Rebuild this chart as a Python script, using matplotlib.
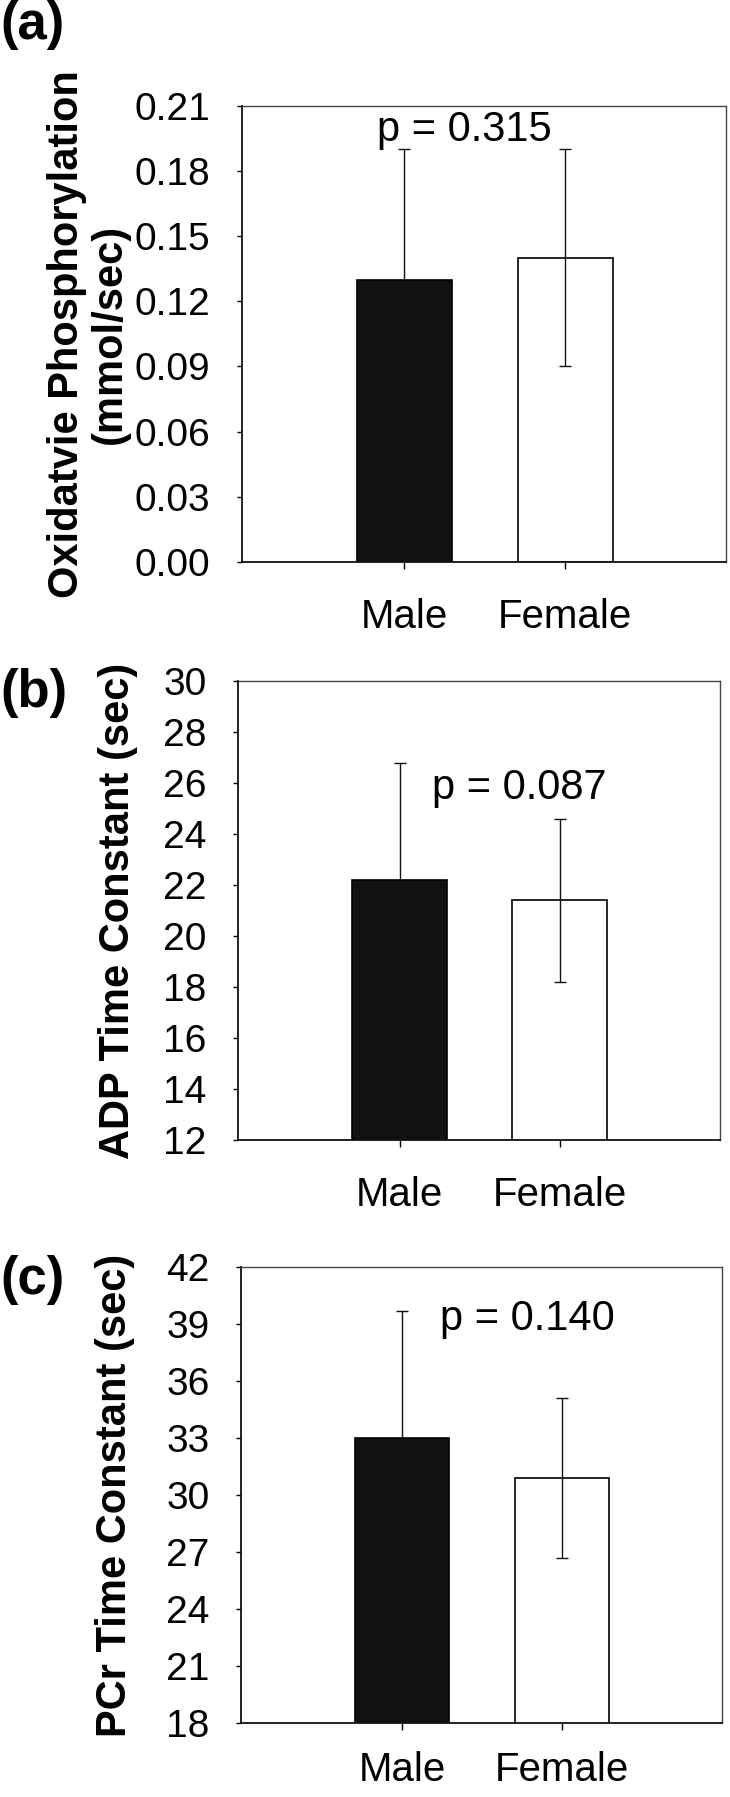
import numpy as np
import matplotlib.pyplot as plt

plt.rcParams['font.family'] = ['Liberation Sans', 'DejaVu Sans']

groups = ['Male', 'Female']

# (a) oxidative phosphorylation
oxphos_mean = [0.13, 0.14]
oxphos_err = [0.06, 0.05]
oxphos_ticks = [0.00, 0.03, 0.06, 0.09, 0.12, 0.15, 0.18, 0.21]
oxphos_p = 'p = 0.315'

# (b) ADP time constant
adp_mean = [22.2, 21.4]
adp_err = [4.6, 3.2]
adp_ticks = [12, 14, 16, 18, 20, 22, 24, 26, 28, 30]
adp_p = 'p = 0.087'

# (c) PCr time constant
pcr_mean = [33.0, 30.9]
pcr_err = [6.7, 4.2]
pcr_ticks = [18, 21, 24, 27, 30, 33, 36, 39, 42]
pcr_p = 'p = 0.140'


def drawPanel(fig, rect, means, errs, yticks, fmt, ylabel, labelx, ptext, ppos, letter, lettery, xpad=20):
	ax = fig.add_axes(rect)
	x = np.arange(len(groups))
	ax.bar(x, means, width=0.59, color=['#111111', 'white'], edgecolor='black', linewidth=1.2, zorder=2)
	# whisker inside the black bar blends into the fill, as in the original
	ax.errorbar(x, means, yerr=errs, fmt='none', ecolor='#111111', elinewidth=1.0,
				capsize=4, capthick=1.0, zorder=3)
	ax.set_xlim(-1.01, 2.0)
	ax.set_ylim(yticks[0], yticks[-1])
	ax.set_yticks(yticks)
	ax.set_yticklabels([fmt % v for v in yticks])
	ax.set_xticks(x)
	ax.set_xticklabels(groups)
	ax.tick_params(axis='y', direction='out', length=3.6, width=1.0, pad=19, labelsize=28)
	ax.tick_params(axis='x', direction='out', length=5, width=1.0, pad=xpad, labelsize=29)
	for side in ['left', 'bottom']:
		ax.spines[side].set_linewidth(1.3)
		ax.spines[side].set_color('#111111')
	for side in ['top', 'right']:
		ax.spines[side].set_linewidth(1.0)
		ax.spines[side].set_color('#444444')
	ax.set_ylabel(ylabel, fontsize=30, fontweight='bold', linespacing=1.1)
	# label anchor is the right edge of the rotated text block
	ax.yaxis.set_label_coords(labelx, 0.5)
	ax.text(ppos[0], ppos[1], ptext, fontsize=30, ha='center', va='center', zorder=4)
	fig.text(0.0, 1 - lettery / 1797, letter, fontsize=38, fontweight='bold', ha='left', va='top')
	return ax


fig = plt.figure(figsize=(7.3, 17.97), dpi=100)

drawPanel(fig, [0.3315, 0.6873, 0.663, 0.2538], oxphos_mean, oxphos_err, oxphos_ticks, '%.2f',
		  'Oxidatvie Phosphorylation\n(mmol/sec)', -0.232, oxphos_p, (0.37, 0.1987), '(a)', 0, xpad=21)
drawPanel(fig, [0.326, 0.3656, 0.660, 0.2554], adp_mean, adp_err, adp_ticks, '%d',
		  'ADP Time Constant (sec)', -0.208, adp_p, (0.75, 25.8), '(b)', 668, xpad=21)
drawPanel(fig, [0.330, 0.041, 0.659, 0.2538], pcr_mean, pcr_err, pcr_ticks, '%d',
		  'PCr Time Constant (sec)', -0.22, pcr_p, (0.78, 39.3), '(c)', 1255, xpad=15)

fig.savefig('out.png', dpi=100)
